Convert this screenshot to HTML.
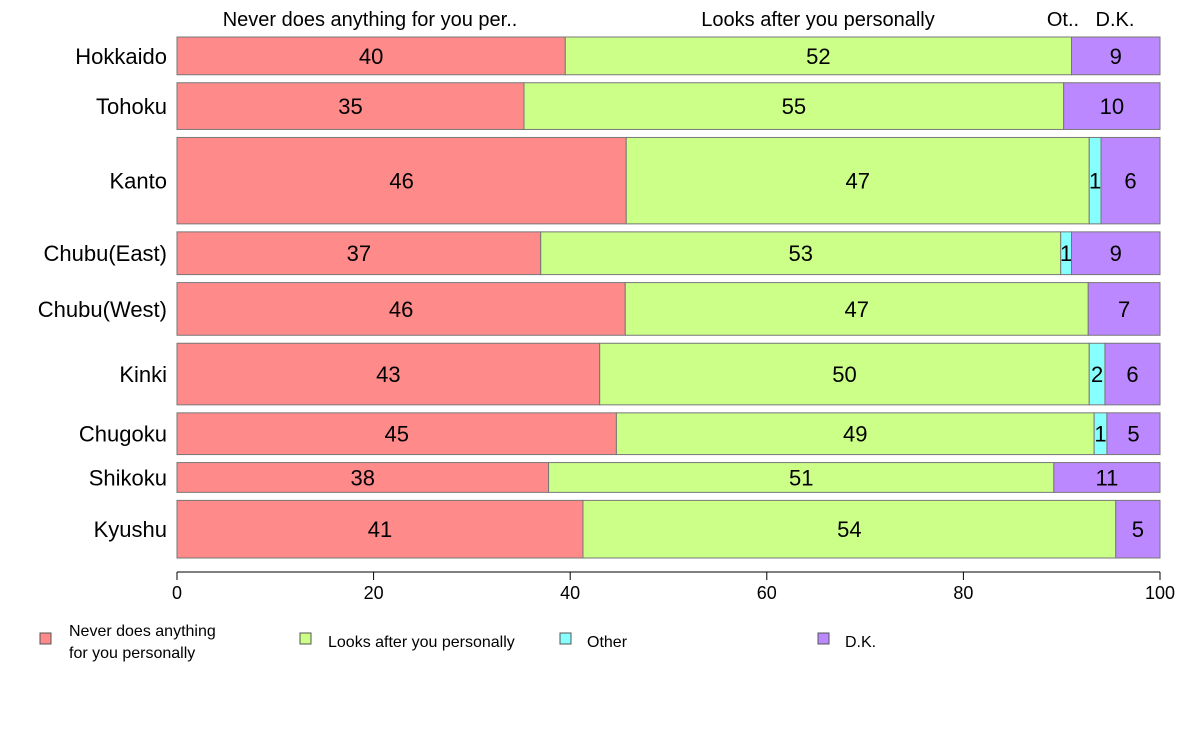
<!DOCTYPE html>
<html><head><meta charset="utf-8"><style>
body{margin:0;background:#fff;font-family:"Liberation Sans",Arial,sans-serif;}
svg text{font-family:"Liberation Sans",Arial,sans-serif;}
</style></head><body>
<svg id="chart" width="1188" height="736" xmlns="http://www.w3.org/2000/svg">
<g id="top-labels" font-size="20" text-anchor="middle" fill="#000">
<text x="370" y="26">Never does anything for you per..</text>
<text x="818" y="26">Looks after you personally</text>
<text x="1063" y="26">Ot..</text>
<text x="1115" y="26">D.K.</text>
</g>
<g id="bars"></g>
<g id="axis"></g>
<g id="legend" font-size="16">
<rect x="40" y="633" width="11" height="11" fill="#FF8A8A" stroke="#555"/>
<text x="69" y="636">Never does anything</text>
<text x="69" y="658">for you personally</text>
<rect x="300" y="633" width="11" height="11" fill="#CCFF88" stroke="#555"/>
<text x="328" y="647">Looks after you personally</text>
<rect x="560" y="633" width="11" height="11" fill="#88FFFF" stroke="#555"/>
<text x="587" y="647">Other</text>
<rect x="818" y="633" width="11" height="11" fill="#BB88FF" stroke="#555"/>
<text x="845" y="647">D.K.</text>
</g>
</svg>
<script>
const regions = ["Hokkaido","Tohoku","Kanto","Chubu(East)","Chubu(West)","Kinki","Chugoku","Shikoku","Kyushu"];
const rowWeights = [38,47,87,43,53,62,42,30,58];
const neverVals = [39.5,35.3,45.7,37.0,45.6,43.0,44.7,37.8,41.3];
const looksVals = [51.5,54.9,47.1,52.9,47.1,49.8,48.6,51.4,54.2];
const otherVals = [0,0,1.2,1.1,0,1.6,1.3,0,0];
const dkVals = [9.0,9.8,6.0,9.0,7.3,5.6,5.4,10.8,4.5];
const xTicks = [0,20,40,60,80,100];
const seriesNames = ["never","looks-after","other","dk"];
const colors = ["#FF8A8A","#CCFF88","#88FFFF","#BB88FF"];

const NS="http://www.w3.org/2000/svg";
const x0=177,x1=1160,yTop=37,yBot=558,gap=8;
const xs=v=>x0+(x1-x0)*v/100;
const totalW=rowWeights.reduce((a,b)=>a+b,0);
const avail=(yBot-yTop)-gap*(regions.length-1);
const bars=document.getElementById('bars');
let y=yTop;
function mk(tag,attrs,parent){const e=document.createElementNS(NS,tag);for(const k in attrs)e.setAttribute(k,attrs[k]);parent.appendChild(e);return e;}
regions.forEach((r,i)=>{
  const h=avail*rowWeights[i]/totalW;
  const lab=mk('text',{x:167,y:y+h/2+8,'text-anchor':'end','font-size':22},bars);
  
  
  lab.textContent=r;
  const vals=[neverVals[i],looksVals[i],otherVals[i],dkVals[i]];
  let cum=0;
  vals.forEach((v,j)=>{
    if(v<=0)return;
    const a=xs(cum),b=xs(cum+v);
    const rect=mk('rect',{x:a,y:y,width:b-a,height:h,fill:colors[j],stroke:'#777','stroke-width':1},bars);
    
    
    const t=mk('text',{x:(a+b)/2,y:y+h/2+8,'text-anchor':'middle','font-size':22},bars);
    
    
    t.textContent=Math.round(v);
    cum+=v;
  });
  y+=h+gap;
});
const ax=document.getElementById('axis');
mk('line',{x1:x0,x2:x1,y1:572,y2:572,stroke:'#000'},ax);
xTicks.forEach(t=>{
  mk('line',{x1:xs(t),x2:xs(t),y1:572,y2:580,stroke:'#000'},ax);
  const tl=mk('text',{x:xs(t),y:599,'text-anchor':'middle','font-size':18},ax);
  
  
  tl.textContent=t;
});
</script>
</body></html>
